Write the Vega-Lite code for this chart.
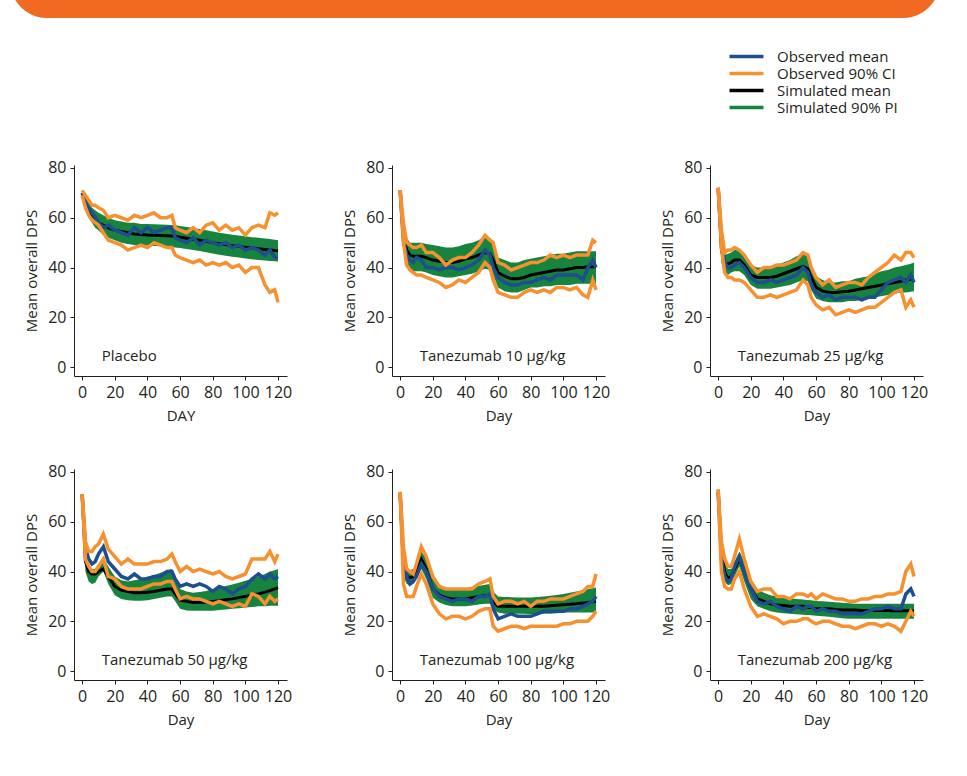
{
"$schema": "https://vega.github.io/schema/vega-lite/v6.json",
"autosize": {"type": "pad"},
"padding": {"left": 10, "top": -56, "right": 10, "bottom": 5},
"background": "#ffffff",
"config": {
  "font": "Open Sans",
  "view": {"stroke": null},
  "axis": {"grid": false, "domainColor": "#231F20", "tickColor": "#231F20", "labelColor": "#231F20", "titleColor": "#231F20", "labelFontSize": 16, "titleFontSize": 15, "titleFontWeight": "normal", "tickSize": 4, "labelPadding": 4, "titlePadding": 8, "labelFlush": false, "labelOverlap": false, "domainWidth": 1, "tickWidth": 1},
  "legend": {"orient": "none", "legendX": 729, "legendY": 105, "symbolSize": 32, "symbolStrokeWidth": 3.5, "labelFontSize": 15, "labelColor": "#231F20", "labelOffset": 23, "rowPadding": 1, "padding": 0, "labelLimit": 300}
},
"datasets": {"dps": [
{"p":"P","d":0,"om":70,"lo":69,"hi":71,"sm":70,"pl":69,"pu":71},
{"p":"P","d":2,"om":66,"lo":64,"hi":69,"sm":66,"pl":63,"pu":69},
{"p":"P","d":4,"om":64,"lo":61,"hi":67,"sm":63,"pl":60,"pu":66},
{"p":"P","d":6,"om":62,"lo":59,"hi":65,"sm":61,"pl":58,"pu":64},
{"p":"P","d":8,"om":60,"lo":58,"hi":65,"sm":60,"pl":56,"pu":63},
{"p":"P","d":10,"om":58,"lo":57,"hi":64,"sm":58,"pl":55,"pu":62},
{"p":"P","d":13,"om":56,"lo":54,"hi":63,"sm":57,"pl":53,"pu":61},
{"p":"P","d":16,"om":57,"lo":51,"hi":60,"sm":56,"pl":52,"pu":60},
{"p":"P","d":20,"om":55,"lo":50,"hi":61,"sm":55,"pl":51,"pu":59},
{"p":"P","d":24,"om":54,"lo":49,"hi":60,"sm":54.5,"pl":50,"pu":58.5},
{"p":"P","d":28,"om":53,"lo":47,"hi":59,"sm":54,"pl":49.5,"pu":58},
{"p":"P","d":32,"om":56,"lo":48,"hi":61,"sm":53.5,"pl":49,"pu":58},
{"p":"P","d":36,"om":54,"lo":49,"hi":60,"sm":53.3,"pl":49,"pu":57.5},
{"p":"P","d":40,"om":56,"lo":48,"hi":61,"sm":53.1,"pl":48.8,"pu":57.5},
{"p":"P","d":44,"om":54,"lo":50,"hi":62,"sm":53,"pl":48.6,"pu":57.4},
{"p":"P","d":48,"om":55,"lo":49,"hi":60,"sm":52.9,"pl":48.5,"pu":57.3},
{"p":"P","d":52,"om":56,"lo":48,"hi":60,"sm":52.8,"pl":48.3,"pu":57.2},
{"p":"P","d":55,"om":56,"lo":48,"hi":61,"sm":52.7,"pl":48.2,"pu":57.1},
{"p":"P","d":57,"om":52,"lo":45,"hi":56,"sm":52.5,"pl":48,"pu":57},
{"p":"P","d":60,"om":51,"lo":44,"hi":55,"sm":52.2,"pl":47.8,"pu":56.7},
{"p":"P","d":64,"om":50,"lo":43,"hi":54,"sm":51.8,"pl":47.4,"pu":56.3},
{"p":"P","d":68,"om":52,"lo":42,"hi":56,"sm":51.4,"pl":47,"pu":55.9},
{"p":"P","d":72,"om":49,"lo":43,"hi":54,"sm":51,"pl":46.6,"pu":55.5},
{"p":"P","d":76,"om":51,"lo":41,"hi":57,"sm":50.5,"pl":46.1,"pu":55},
{"p":"P","d":80,"om":50,"lo":42,"hi":58,"sm":50,"pl":45.6,"pu":54.5},
{"p":"P","d":84,"om":49,"lo":41,"hi":55,"sm":49.6,"pl":45.1,"pu":54},
{"p":"P","d":88,"om":50,"lo":42,"hi":57,"sm":49.2,"pl":44.7,"pu":53.6},
{"p":"P","d":92,"om":48,"lo":40,"hi":55,"sm":48.8,"pl":44.3,"pu":53.2},
{"p":"P","d":96,"om":49,"lo":41,"hi":56,"sm":48.5,"pl":44,"pu":52.9},
{"p":"P","d":100,"om":47,"lo":38,"hi":53,"sm":48.1,"pl":43.6,"pu":52.6},
{"p":"P","d":104,"om":48,"lo":40,"hi":56,"sm":47.8,"pl":43.3,"pu":52.2},
{"p":"P","d":108,"om":47,"lo":40,"hi":57,"sm":47.5,"pl":43,"pu":52},
{"p":"P","d":112,"om":45,"lo":33,"hi":56,"sm":47.2,"pl":42.8,"pu":51.7},
{"p":"P","d":115,"om":47,"lo":30,"hi":62,"sm":47,"pl":42.6,"pu":51.5},
{"p":"P","d":118,"om":44,"lo":31,"hi":61,"sm":46.8,"pl":42.5,"pu":51.2},
{"p":"P","d":120,"om":44,"lo":26,"hi":62,"sm":46.7,"pl":42.4,"pu":51},
{"p":"T10","d":0,"om":71,"lo":71,"hi":71,"sm":71,"pl":71,"pu":71},
{"p":"T10","d":2,"om":51,"lo":50,"hi":58,"sm":52,"pl":47,"pu":56},
{"p":"T10","d":4,"om":45,"lo":41,"hi":50,"sm":47,"pl":41,"pu":52},
{"p":"T10","d":6,"om":43,"lo":39,"hi":49,"sm":45,"pl":39,"pu":50},
{"p":"T10","d":8,"om":42,"lo":38,"hi":48,"sm":44.5,"pl":38.5,"pu":50},
{"p":"T10","d":10,"om":44,"lo":37,"hi":48,"sm":44.5,"pl":38.5,"pu":50},
{"p":"T10","d":13,"om":43,"lo":37,"hi":49,"sm":44.5,"pl":38.5,"pu":50},
{"p":"T10","d":16,"om":40,"lo":36,"hi":46,"sm":44,"pl":38,"pu":49.5},
{"p":"T10","d":20,"om":40,"lo":35,"hi":46,"sm":43,"pl":37,"pu":49},
{"p":"T10","d":24,"om":39,"lo":34,"hi":44,"sm":42.5,"pl":36.5,"pu":48.5},
{"p":"T10","d":28,"om":40,"lo":32,"hi":41,"sm":42,"pl":36,"pu":48},
{"p":"T10","d":32,"om":40,"lo":33,"hi":43,"sm":42,"pl":36,"pu":48},
{"p":"T10","d":36,"om":39,"lo":35,"hi":44,"sm":42.5,"pl":36.5,"pu":48.5},
{"p":"T10","d":40,"om":40,"lo":34,"hi":44,"sm":43.5,"pl":37,"pu":49.5},
{"p":"T10","d":44,"om":41,"lo":36,"hi":46,"sm":44,"pl":37.5,"pu":50},
{"p":"T10","d":48,"om":43,"lo":38,"hi":49,"sm":45,"pl":38.5,"pu":51},
{"p":"T10","d":52,"om":47,"lo":42,"hi":53,"sm":46,"pl":39.5,"pu":52.5},
{"p":"T10","d":55,"om":45,"lo":40,"hi":51,"sm":45.5,"pl":39,"pu":52},
{"p":"T10","d":57,"om":40,"lo":35,"hi":50,"sm":43,"pl":37,"pu":50},
{"p":"T10","d":60,"om":36,"lo":30,"hi":42,"sm":38,"pl":32,"pu":44},
{"p":"T10","d":64,"om":34,"lo":29,"hi":41,"sm":36.5,"pl":30.5,"pu":43},
{"p":"T10","d":68,"om":33,"lo":28,"hi":39,"sm":35.5,"pl":30,"pu":42},
{"p":"T10","d":72,"om":33,"lo":28,"hi":40,"sm":35.5,"pl":30,"pu":42},
{"p":"T10","d":76,"om":34,"lo":30,"hi":41,"sm":36,"pl":31,"pu":43},
{"p":"T10","d":80,"om":34,"lo":31,"hi":42,"sm":37,"pl":32,"pu":43.5},
{"p":"T10","d":84,"om":35,"lo":30,"hi":42,"sm":37.5,"pl":32,"pu":44},
{"p":"T10","d":88,"om":36,"lo":31,"hi":43,"sm":38,"pl":32.5,"pu":44.5},
{"p":"T10","d":92,"om":35,"lo":30,"hi":45,"sm":38.5,"pl":32.5,"pu":45},
{"p":"T10","d":96,"om":37,"lo":32,"hi":44,"sm":39,"pl":33,"pu":45.5},
{"p":"T10","d":100,"om":37,"lo":32,"hi":45,"sm":39,"pl":33,"pu":45.5},
{"p":"T10","d":104,"om":37,"lo":31,"hi":44,"sm":39.5,"pl":33,"pu":46},
{"p":"T10","d":108,"om":37,"lo":32,"hi":45,"sm":40,"pl":33.5,"pu":46.5},
{"p":"T10","d":112,"om":35,"lo":29,"hi":45,"sm":40,"pl":33.5,"pu":46.5},
{"p":"T10","d":115,"om":40,"lo":28,"hi":45,"sm":40.3,"pl":33.5,"pu":46.5},
{"p":"T10","d":118,"om":43,"lo":35,"hi":51,"sm":40.3,"pl":33.5,"pu":46.5},
{"p":"T10","d":120,"om":40,"lo":31,"hi":50,"sm":40.3,"pl":33.5,"pu":46.5},
{"p":"T25","d":0,"om":72,"lo":72,"hi":72,"sm":72,"pl":72,"pu":72},
{"p":"T25","d":2,"om":51,"lo":48,"hi":55,"sm":47,"pl":42,"pu":52},
{"p":"T25","d":4,"om":42,"lo":38,"hi":46,"sm":41,"pl":37,"pu":45},
{"p":"T25","d":6,"om":40,"lo":36,"hi":47,"sm":41.5,"pl":37,"pu":45.5},
{"p":"T25","d":8,"om":40,"lo":36,"hi":47,"sm":42,"pl":38,"pu":46},
{"p":"T25","d":10,"om":41,"lo":35,"hi":48,"sm":43,"pl":38.5,"pu":47},
{"p":"T25","d":13,"om":42,"lo":35,"hi":47,"sm":43,"pl":38.5,"pu":47},
{"p":"T25","d":16,"om":40,"lo":34,"hi":45,"sm":41,"pl":37,"pu":45},
{"p":"T25","d":20,"om":36,"lo":31,"hi":41,"sm":37,"pl":33,"pu":41},
{"p":"T25","d":24,"om":34,"lo":28,"hi":38,"sm":36,"pl":31.5,"pu":40},
{"p":"T25","d":28,"om":34,"lo":28,"hi":40,"sm":36,"pl":31.5,"pu":40},
{"p":"T25","d":32,"om":35,"lo":29,"hi":40,"sm":36,"pl":31.5,"pu":40},
{"p":"T25","d":36,"om":34,"lo":28,"hi":41,"sm":36.5,"pl":32,"pu":41},
{"p":"T25","d":40,"om":35,"lo":29,"hi":41,"sm":37.5,"pl":32.5,"pu":42},
{"p":"T25","d":44,"om":36,"lo":30,"hi":42,"sm":38.5,"pl":33,"pu":43},
{"p":"T25","d":48,"om":37,"lo":31,"hi":43,"sm":39.5,"pl":34,"pu":44.5},
{"p":"T25","d":52,"om":40,"lo":35,"hi":46,"sm":40.5,"pl":35,"pu":45.5},
{"p":"T25","d":55,"om":38,"lo":33,"hi":45,"sm":39.5,"pl":34.5,"pu":45.5},
{"p":"T25","d":57,"om":33,"lo":28,"hi":40,"sm":36,"pl":31,"pu":41},
{"p":"T25","d":60,"om":30,"lo":25,"hi":36,"sm":32,"pl":27.5,"pu":36.5},
{"p":"T25","d":64,"om":28,"lo":23,"hi":33,"sm":30.5,"pl":26.5,"pu":35},
{"p":"T25","d":68,"om":29,"lo":24,"hi":35,"sm":30,"pl":26,"pu":34},
{"p":"T25","d":72,"om":27,"lo":21,"hi":32,"sm":30,"pl":26,"pu":34},
{"p":"T25","d":76,"om":28,"lo":22,"hi":33,"sm":30.3,"pl":26,"pu":34.5},
{"p":"T25","d":80,"om":28,"lo":23,"hi":34,"sm":30.5,"pl":26.5,"pu":34.5},
{"p":"T25","d":84,"om":28,"lo":22,"hi":34,"sm":31,"pl":26.5,"pu":35.5},
{"p":"T25","d":88,"om":27,"lo":23,"hi":33,"sm":31.5,"pl":27,"pu":36},
{"p":"T25","d":92,"om":28,"lo":24,"hi":36,"sm":32,"pl":27.5,"pu":36.5},
{"p":"T25","d":96,"om":28,"lo":24,"hi":38,"sm":32.5,"pl":28,"pu":37.5},
{"p":"T25","d":100,"om":31,"lo":26,"hi":40,"sm":33,"pl":28.5,"pu":38.5},
{"p":"T25","d":104,"om":34,"lo":28,"hi":42,"sm":33.5,"pl":29,"pu":39},
{"p":"T25","d":108,"om":35,"lo":30,"hi":45,"sm":34,"pl":29.5,"pu":40},
{"p":"T25","d":112,"om":36,"lo":31,"hi":43,"sm":34.5,"pl":30,"pu":40.5},
{"p":"T25","d":115,"om":34,"lo":24,"hi":46,"sm":35,"pl":30,"pu":41},
{"p":"T25","d":118,"om":37,"lo":27,"hi":46,"sm":35.3,"pl":30.3,"pu":41.5},
{"p":"T25","d":120,"om":34,"lo":24,"hi":44,"sm":35.5,"pl":30.5,"pu":42},
{"p":"T50","d":0,"om":71,"lo":71,"hi":71,"sm":71,"pl":70,"pu":72},
{"p":"T50","d":2,"om":50,"lo":45,"hi":52,"sm":44,"pl":40,"pu":48},
{"p":"T50","d":4,"om":45,"lo":42,"hi":48,"sm":40,"pl":36,"pu":43},
{"p":"T50","d":6,"om":43,"lo":40,"hi":48,"sm":39,"pl":35,"pu":41},
{"p":"T50","d":8,"om":44,"lo":40,"hi":50,"sm":39,"pl":35.5,"pu":41},
{"p":"T50","d":10,"om":47,"lo":42,"hi":51,"sm":40,"pl":38,"pu":43},
{"p":"T50","d":13,"om":50,"lo":45,"hi":55,"sm":41,"pl":40,"pu":45.5},
{"p":"T50","d":16,"om":44,"lo":38,"hi":49,"sm":38,"pl":35,"pu":42},
{"p":"T50","d":20,"om":41,"lo":37,"hi":46,"sm":34,"pl":30.5,"pu":38},
{"p":"T50","d":24,"om":38,"lo":34,"hi":43,"sm":32.5,"pl":29,"pu":36.5},
{"p":"T50","d":28,"om":37,"lo":33,"hi":45,"sm":32,"pl":28.5,"pu":36},
{"p":"T50","d":32,"om":39,"lo":33,"hi":43,"sm":31.5,"pl":28.3,"pu":36.5},
{"p":"T50","d":36,"om":37,"lo":33,"hi":43,"sm":31.5,"pl":28.3,"pu":37},
{"p":"T50","d":40,"om":37,"lo":34,"hi":43,"sm":31.7,"pl":28.5,"pu":38},
{"p":"T50","d":44,"om":38,"lo":35,"hi":44,"sm":32,"pl":29,"pu":38.5},
{"p":"T50","d":48,"om":38,"lo":35,"hi":44,"sm":32.5,"pl":29.5,"pu":39.5},
{"p":"T50","d":52,"om":40,"lo":36,"hi":45,"sm":33,"pl":30,"pu":40.5},
{"p":"T50","d":55,"om":40,"lo":36,"hi":47,"sm":33,"pl":30,"pu":41},
{"p":"T50","d":57,"om":37,"lo":33,"hi":44,"sm":31,"pl":28,"pu":38},
{"p":"T50","d":60,"om":34,"lo":29,"hi":40,"sm":28.5,"pl":25,"pu":33},
{"p":"T50","d":64,"om":35,"lo":30,"hi":42,"sm":28,"pl":24.3,"pu":32},
{"p":"T50","d":68,"om":34,"lo":29,"hi":40,"sm":27.5,"pl":24.2,"pu":31.5},
{"p":"T50","d":72,"om":35,"lo":29,"hi":41,"sm":27.5,"pl":24.2,"pu":31.8},
{"p":"T50","d":76,"om":34,"lo":28,"hi":40,"sm":27.7,"pl":24.2,"pu":32.2},
{"p":"T50","d":80,"om":32,"lo":27,"hi":39,"sm":28,"pl":24.2,"pu":33},
{"p":"T50","d":84,"om":34,"lo":28,"hi":40,"sm":28.3,"pl":24.5,"pu":33.5},
{"p":"T50","d":88,"om":33,"lo":27,"hi":38,"sm":28.7,"pl":24.7,"pu":34.2},
{"p":"T50","d":92,"om":31,"lo":26,"hi":37,"sm":29,"pl":25,"pu":34.8},
{"p":"T50","d":96,"om":33,"lo":27,"hi":38,"sm":29.5,"pl":25.2,"pu":35.5},
{"p":"T50","d":100,"om":34,"lo":26,"hi":39,"sm":30,"pl":25.5,"pu":36.3},
{"p":"T50","d":104,"om":37,"lo":31,"hi":45,"sm":30.5,"pl":25.7,"pu":37},
{"p":"T50","d":108,"om":39,"lo":30,"hi":45,"sm":31,"pl":26,"pu":38},
{"p":"T50","d":112,"om":37,"lo":27,"hi":45,"sm":31.7,"pl":26,"pu":39},
{"p":"T50","d":115,"om":39,"lo":30,"hi":48,"sm":32.3,"pl":26.2,"pu":40},
{"p":"T50","d":118,"om":37,"lo":28,"hi":44,"sm":33,"pl":26.2,"pu":40.5},
{"p":"T50","d":120,"om":38,"lo":29,"hi":47,"sm":33.5,"pl":26.2,"pu":41},
{"p":"T100","d":0,"om":71,"lo":72,"hi":72,"sm":71,"pl":71,"pu":71},
{"p":"T100","d":2,"om":45,"lo":35,"hi":50,"sm":42,"pl":38,"pu":46},
{"p":"T100","d":4,"om":38,"lo":30,"hi":41,"sm":38,"pl":35,"pu":41},
{"p":"T100","d":6,"om":35,"lo":30,"hi":40,"sm":37.5,"pl":34.5,"pu":40.5},
{"p":"T100","d":8,"om":36,"lo":30,"hi":39,"sm":38,"pl":35,"pu":41},
{"p":"T100","d":10,"om":38,"lo":34,"hi":43,"sm":41,"pl":38,"pu":44},
{"p":"T100","d":13,"om":43,"lo":39,"hi":50,"sm":45,"pl":41,"pu":48},
{"p":"T100","d":16,"om":40,"lo":35,"hi":46,"sm":41,"pl":37,"pu":45},
{"p":"T100","d":20,"om":33,"lo":27,"hi":38,"sm":33,"pl":29.5,"pu":37},
{"p":"T100","d":24,"om":30,"lo":23,"hi":34,"sm":30.5,"pl":27.5,"pu":34},
{"p":"T100","d":28,"om":29,"lo":21,"hi":33,"sm":29.5,"pl":26.5,"pu":33},
{"p":"T100","d":32,"om":28,"lo":22,"hi":33,"sm":29,"pl":26,"pu":33},
{"p":"T100","d":36,"om":29,"lo":22,"hi":33,"sm":29,"pl":26,"pu":33},
{"p":"T100","d":40,"om":29,"lo":21,"hi":33,"sm":29,"pl":26,"pu":33.3},
{"p":"T100","d":44,"om":28,"lo":22,"hi":33,"sm":29.5,"pl":26.3,"pu":33.7},
{"p":"T100","d":48,"om":30,"lo":24,"hi":35,"sm":30,"pl":26.7,"pu":34.2},
{"p":"T100","d":52,"om":30,"lo":25,"hi":36,"sm":30.3,"pl":27,"pu":34.7},
{"p":"T100","d":55,"om":31,"lo":25,"hi":37,"sm":30.5,"pl":27,"pu":35},
{"p":"T100","d":57,"om":25,"lo":18,"hi":30,"sm":28,"pl":25,"pu":32},
{"p":"T100","d":60,"om":21,"lo":16,"hi":27,"sm":26,"pl":23.5,"pu":30},
{"p":"T100","d":64,"om":22,"lo":17,"hi":28,"sm":26,"pl":23,"pu":29.8},
{"p":"T100","d":68,"om":23,"lo":18,"hi":28,"sm":26,"pl":23,"pu":29.7},
{"p":"T100","d":72,"om":22,"lo":18,"hi":27,"sm":26,"pl":23,"pu":29.6},
{"p":"T100","d":76,"om":22,"lo":17,"hi":28,"sm":26,"pl":23,"pu":29.6},
{"p":"T100","d":80,"om":22,"lo":18,"hi":26,"sm":26,"pl":22.8,"pu":29.6},
{"p":"T100","d":84,"om":23,"lo":18,"hi":28,"sm":26,"pl":22.8,"pu":29.8},
{"p":"T100","d":88,"om":24,"lo":18,"hi":28,"sm":26,"pl":23,"pu":30},
{"p":"T100","d":92,"om":24,"lo":18,"hi":29,"sm":26.2,"pl":23,"pu":30.3},
{"p":"T100","d":96,"om":24,"lo":18,"hi":29,"sm":26.4,"pl":23.2,"pu":30.6},
{"p":"T100","d":100,"om":24,"lo":19,"hi":29,"sm":26.6,"pl":23.5,"pu":31},
{"p":"T100","d":104,"om":25,"lo":19,"hi":30,"sm":26.8,"pl":23.5,"pu":31.5},
{"p":"T100","d":108,"om":25,"lo":20,"hi":31,"sm":27,"pl":23.5,"pu":32},
{"p":"T100","d":112,"om":26,"lo":20,"hi":32,"sm":27.3,"pl":23.5,"pu":32.5},
{"p":"T100","d":115,"om":27,"lo":20,"hi":34,"sm":27.6,"pl":23.5,"pu":33},
{"p":"T100","d":118,"om":28,"lo":22,"hi":34,"sm":27.8,"pl":23.5,"pu":33.3},
{"p":"T100","d":120,"om":30,"lo":24,"hi":39,"sm":28,"pl":23.5,"pu":33.6},
{"p":"T200","d":0,"om":72,"lo":73,"hi":73,"sm":72,"pl":72,"pu":72},
{"p":"T200","d":2,"om":45,"lo":40,"hi":52,"sm":48,"pl":44,"pu":52},
{"p":"T200","d":4,"om":38,"lo":34,"hi":45,"sm":40,"pl":36,"pu":44},
{"p":"T200","d":6,"om":36,"lo":33,"hi":42,"sm":37,"pl":34.5,"pu":41},
{"p":"T200","d":8,"om":37,"lo":33,"hi":42,"sm":38,"pl":35,"pu":41},
{"p":"T200","d":10,"om":42,"lo":37,"hi":46,"sm":41,"pl":38,"pu":44},
{"p":"T200","d":13,"om":46,"lo":40,"hi":53,"sm":45,"pl":42,"pu":48},
{"p":"T200","d":16,"om":40,"lo":33,"hi":45,"sm":40,"pl":36,"pu":44},
{"p":"T200","d":20,"om":33,"lo":26,"hi":36,"sm":33,"pl":29,"pu":37},
{"p":"T200","d":24,"om":28,"lo":22,"hi":32,"sm":29,"pl":26,"pu":33},
{"p":"T200","d":28,"om":27,"lo":23,"hi":33,"sm":28,"pl":25,"pu":31.5},
{"p":"T200","d":32,"om":28,"lo":22,"hi":33,"sm":27,"pl":24,"pu":30.5},
{"p":"T200","d":36,"om":26,"lo":21,"hi":30,"sm":26.5,"pl":23.5,"pu":30},
{"p":"T200","d":40,"om":25,"lo":19,"hi":30,"sm":26.3,"pl":23.2,"pu":29.6},
{"p":"T200","d":44,"om":24,"lo":20,"hi":29,"sm":26,"pl":23,"pu":29.3},
{"p":"T200","d":48,"om":26,"lo":20,"hi":31,"sm":26,"pl":22.8,"pu":29},
{"p":"T200","d":52,"om":25,"lo":21,"hi":31,"sm":26,"pl":22.6,"pu":28.8},
{"p":"T200","d":55,"om":26,"lo":21,"hi":30,"sm":25.5,"pl":22.5,"pu":28.6},
{"p":"T200","d":57,"om":26,"lo":20,"hi":31,"sm":25.5,"pl":22.4,"pu":28.5},
{"p":"T200","d":60,"om":24,"lo":19,"hi":29,"sm":25,"pl":22.2,"pu":28.2},
{"p":"T200","d":64,"om":25,"lo":20,"hi":31,"sm":25,"pl":22,"pu":28},
{"p":"T200","d":68,"om":24,"lo":20,"hi":30,"sm":25,"pl":21.8,"pu":27.8},
{"p":"T200","d":72,"om":24,"lo":19,"hi":29,"sm":24.7,"pl":21.5,"pu":27.6},
{"p":"T200","d":76,"om":23,"lo":18,"hi":29,"sm":24.5,"pl":21.2,"pu":27.4},
{"p":"T200","d":80,"om":23,"lo":18,"hi":28,"sm":24.5,"pl":21,"pu":27.2},
{"p":"T200","d":84,"om":23,"lo":17,"hi":28,"sm":24.5,"pl":21,"pu":27},
{"p":"T200","d":88,"om":23,"lo":18,"hi":29,"sm":24.3,"pl":21,"pu":27},
{"p":"T200","d":92,"om":24,"lo":19,"hi":29,"sm":24.3,"pl":21,"pu":27},
{"p":"T200","d":96,"om":25,"lo":19,"hi":30,"sm":24.3,"pl":21,"pu":27},
{"p":"T200","d":100,"om":25,"lo":18,"hi":30,"sm":24.3,"pl":21,"pu":27},
{"p":"T200","d":104,"om":26,"lo":19,"hi":31,"sm":24.3,"pl":21,"pu":27},
{"p":"T200","d":108,"om":25,"lo":18,"hi":31,"sm":24.2,"pl":21,"pu":27},
{"p":"T200","d":112,"om":25,"lo":16,"hi":32,"sm":24.2,"pl":21,"pu":27},
{"p":"T200","d":115,"om":31,"lo":20,"hi":40,"sm":24.2,"pl":21,"pu":27},
{"p":"T200","d":118,"om":33,"lo":24,"hi":43,"sm":24.2,"pl":21,"pu":27},
{"p":"T200","d":120,"om":30,"lo":22,"hi":38,"sm":24,"pl":21,"pu":27}
]},
"bounds": "flush",
"spacing": 147,
"vconcat": [
  {"width": 930, "height": 74, "data": {"values": []}, "mark": "point", "view": {"fill": "#F26A22", "stroke": null, "cornerRadius": 37}},
  {"bounds": "flush", "spacing": 0, "hconcat": [
    {"width": 64, "height": 10, "data": {"values": []}, "mark": "point"},
    {"bounds": "flush", "columns": 3, "spacing": {"row": 93, "column": 105}, "concat": [
      {"width": 213, "height": 211, "data": {"name": "dps"}, "transform": [{"filter": "datum.p == 'P'"}],
       "encoding": {"x": {"field": "d", "type": "quantitative", "scale": {"domain": [-5, 125.5], "nice": false, "zero": false}, "axis": {"values": [0,20,40,60,80,100,120], "title": "DAY", "labelOverlap": false, "labelFlush": false}}},
       "layer": [
        {"mark": {"type": "area"}, "encoding": {
          "y": {"field": "pl", "type": "quantitative", "scale": {"domain": [-3.6, 81.2], "nice": false, "zero": false}, "axis": {"values": [0,20,40,60,80], "title": "Mean overall DPS", "labelOverlap": false}},
          "y2": {"field": "pu"},
          "color": {"datum": "Simulated 90% PI", "type": "nominal", "scale": {"domain": ["Observed mean","Observed 90% CI","Simulated mean","Simulated 90% PI"], "range": ["#1D4E8F","#F7902E","#000000","#16833F"]}, "legend": {"title": null, "symbolType": "M-6,0H6", "encode": {"symbols": {"update": {"stroke": {"scale": "color", "field": "value"}, "strokeWidth": {"value": 3.5}}}}}}}},
        {"mark": {"type": "line", "strokeWidth": 3}, "encoding": {"y": {"field": "sm", "type": "quantitative"}, "color": {"datum": "Simulated mean", "type": "nominal", "scale": {"domain": ["Observed mean","Observed 90% CI","Simulated mean","Simulated 90% PI"], "range": ["#1D4E8F","#F7902E","#000000","#16833F"]}, "legend": {"title": null, "symbolType": "M-6,0H6"}}}},
        {"mark": {"type": "line", "strokeWidth": 3.5}, "encoding": {"y": {"field": "om", "type": "quantitative"}, "color": {"datum": "Observed mean", "type": "nominal", "scale": {"domain": ["Observed mean","Observed 90% CI","Simulated mean","Simulated 90% PI"], "range": ["#1D4E8F","#F7902E","#000000","#16833F"]}, "legend": {"title": null, "symbolType": "M-6,0H6"}}}},
        {"mark": {"type": "line", "strokeWidth": 3.5}, "encoding": {"y": {"field": "hi", "type": "quantitative"}, "color": {"datum": "Observed 90% CI", "type": "nominal", "scale": {"domain": ["Observed mean","Observed 90% CI","Simulated mean","Simulated 90% PI"], "range": ["#1D4E8F","#F7902E","#000000","#16833F"]}, "legend": {"title": null, "symbolType": "M-6,0H6"}}}},
        {"mark": {"type": "line", "strokeWidth": 3.5}, "encoding": {"y": {"field": "lo", "type": "quantitative"}, "color": {"datum": "Observed 90% CI", "type": "nominal", "scale": {"domain": ["Observed mean","Observed 90% CI","Simulated mean","Simulated 90% PI"], "range": ["#1D4E8F","#F7902E","#000000","#16833F"]}, "legend": {"title": null, "symbolType": "M-6,0H6"}}}},
        {"data": {"values": [{"t": "Placebo", "d": 12, "v": 4.5}]}, "mark": {"type": "text", "align": "left", "baseline": "middle", "fontSize": 15, "color": "#231F20"}, "encoding": {"y": {"field": "v", "type": "quantitative"}, "text": {"field": "t"}}}
      ]},
      {"width": 213, "height": 211, "data": {"name": "dps"}, "transform": [{"filter": "datum.p == 'T10'"}],
       "encoding": {"x": {"field": "d", "type": "quantitative", "scale": {"domain": [-5, 125.5], "nice": false, "zero": false}, "axis": {"values": [0,20,40,60,80,100,120], "title": "Day", "labelOverlap": false, "labelFlush": false}}},
       "layer": [
        {"mark": {"type": "area"}, "encoding": {
          "y": {"field": "pl", "type": "quantitative", "scale": {"domain": [-3.6, 81.2], "nice": false, "zero": false}, "axis": {"values": [0,20,40,60,80], "title": "Mean overall DPS", "labelOverlap": false}},
          "y2": {"field": "pu"},
          "color": {"datum": "Simulated 90% PI", "type": "nominal", "scale": {"domain": ["Observed mean","Observed 90% CI","Simulated mean","Simulated 90% PI"], "range": ["#1D4E8F","#F7902E","#000000","#16833F"]}, "legend": {"title": null, "symbolType": "M-6,0H6"}}}},
        {"mark": {"type": "line", "strokeWidth": 3}, "encoding": {"y": {"field": "sm", "type": "quantitative"}, "color": {"datum": "Simulated mean", "type": "nominal", "scale": {"domain": ["Observed mean","Observed 90% CI","Simulated mean","Simulated 90% PI"], "range": ["#1D4E8F","#F7902E","#000000","#16833F"]}, "legend": {"title": null, "symbolType": "M-6,0H6"}}}},
        {"mark": {"type": "line", "strokeWidth": 3.5}, "encoding": {"y": {"field": "om", "type": "quantitative"}, "color": {"datum": "Observed mean", "type": "nominal", "scale": {"domain": ["Observed mean","Observed 90% CI","Simulated mean","Simulated 90% PI"], "range": ["#1D4E8F","#F7902E","#000000","#16833F"]}, "legend": {"title": null, "symbolType": "M-6,0H6"}}}},
        {"mark": {"type": "line", "strokeWidth": 3.5}, "encoding": {"y": {"field": "hi", "type": "quantitative"}, "color": {"datum": "Observed 90% CI", "type": "nominal", "scale": {"domain": ["Observed mean","Observed 90% CI","Simulated mean","Simulated 90% PI"], "range": ["#1D4E8F","#F7902E","#000000","#16833F"]}, "legend": {"title": null, "symbolType": "M-6,0H6"}}}},
        {"mark": {"type": "line", "strokeWidth": 3.5}, "encoding": {"y": {"field": "lo", "type": "quantitative"}, "color": {"datum": "Observed 90% CI", "type": "nominal", "scale": {"domain": ["Observed mean","Observed 90% CI","Simulated mean","Simulated 90% PI"], "range": ["#1D4E8F","#F7902E","#000000","#16833F"]}, "legend": {"title": null, "symbolType": "M-6,0H6"}}}},
        {"data": {"values": [{"t": "Tanezumab 10 µg/kg", "d": 12, "v": 4.5}]}, "mark": {"type": "text", "align": "left", "baseline": "middle", "fontSize": 15, "color": "#231F20"}, "encoding": {"y": {"field": "v", "type": "quantitative"}, "text": {"field": "t"}}}
      ]},
      {"width": 213, "height": 211, "data": {"name": "dps"}, "transform": [{"filter": "datum.p == 'T25'"}],
       "encoding": {"x": {"field": "d", "type": "quantitative", "scale": {"domain": [-5, 125.5], "nice": false, "zero": false}, "axis": {"values": [0,20,40,60,80,100,120], "title": "Day", "labelOverlap": false, "labelFlush": false}}},
       "layer": [
        {"mark": {"type": "area"}, "encoding": {
          "y": {"field": "pl", "type": "quantitative", "scale": {"domain": [-3.6, 81.2], "nice": false, "zero": false}, "axis": {"values": [0,20,40,60,80], "title": "Mean overall DPS", "labelOverlap": false}},
          "y2": {"field": "pu"},
          "color": {"datum": "Simulated 90% PI", "type": "nominal", "scale": {"domain": ["Observed mean","Observed 90% CI","Simulated mean","Simulated 90% PI"], "range": ["#1D4E8F","#F7902E","#000000","#16833F"]}, "legend": {"title": null, "symbolType": "M-6,0H6"}}}},
        {"mark": {"type": "line", "strokeWidth": 3}, "encoding": {"y": {"field": "sm", "type": "quantitative"}, "color": {"datum": "Simulated mean", "type": "nominal", "scale": {"domain": ["Observed mean","Observed 90% CI","Simulated mean","Simulated 90% PI"], "range": ["#1D4E8F","#F7902E","#000000","#16833F"]}, "legend": {"title": null, "symbolType": "M-6,0H6"}}}},
        {"mark": {"type": "line", "strokeWidth": 3.5}, "encoding": {"y": {"field": "om", "type": "quantitative"}, "color": {"datum": "Observed mean", "type": "nominal", "scale": {"domain": ["Observed mean","Observed 90% CI","Simulated mean","Simulated 90% PI"], "range": ["#1D4E8F","#F7902E","#000000","#16833F"]}, "legend": {"title": null, "symbolType": "M-6,0H6"}}}},
        {"mark": {"type": "line", "strokeWidth": 3.5}, "encoding": {"y": {"field": "hi", "type": "quantitative"}, "color": {"datum": "Observed 90% CI", "type": "nominal", "scale": {"domain": ["Observed mean","Observed 90% CI","Simulated mean","Simulated 90% PI"], "range": ["#1D4E8F","#F7902E","#000000","#16833F"]}, "legend": {"title": null, "symbolType": "M-6,0H6"}}}},
        {"mark": {"type": "line", "strokeWidth": 3.5}, "encoding": {"y": {"field": "lo", "type": "quantitative"}, "color": {"datum": "Observed 90% CI", "type": "nominal", "scale": {"domain": ["Observed mean","Observed 90% CI","Simulated mean","Simulated 90% PI"], "range": ["#1D4E8F","#F7902E","#000000","#16833F"]}, "legend": {"title": null, "symbolType": "M-6,0H6"}}}},
        {"data": {"values": [{"t": "Tanezumab 25 µg/kg", "d": 12, "v": 4.5}]}, "mark": {"type": "text", "align": "left", "baseline": "middle", "fontSize": 15, "color": "#231F20"}, "encoding": {"y": {"field": "v", "type": "quantitative"}, "text": {"field": "t"}}}
      ]},
      {"width": 213, "height": 211, "data": {"name": "dps"}, "transform": [{"filter": "datum.p == 'T50'"}],
       "encoding": {"x": {"field": "d", "type": "quantitative", "scale": {"domain": [-5, 125.5], "nice": false, "zero": false}, "axis": {"values": [0,20,40,60,80,100,120], "title": "Day", "labelOverlap": false, "labelFlush": false}}},
       "layer": [
        {"mark": {"type": "area"}, "encoding": {
          "y": {"field": "pl", "type": "quantitative", "scale": {"domain": [-3.6, 81.2], "nice": false, "zero": false}, "axis": {"values": [0,20,40,60,80], "title": "Mean overall DPS", "labelOverlap": false}},
          "y2": {"field": "pu"},
          "color": {"datum": "Simulated 90% PI", "type": "nominal", "scale": {"domain": ["Observed mean","Observed 90% CI","Simulated mean","Simulated 90% PI"], "range": ["#1D4E8F","#F7902E","#000000","#16833F"]}, "legend": {"title": null, "symbolType": "M-6,0H6"}}}},
        {"mark": {"type": "line", "strokeWidth": 3}, "encoding": {"y": {"field": "sm", "type": "quantitative"}, "color": {"datum": "Simulated mean", "type": "nominal", "scale": {"domain": ["Observed mean","Observed 90% CI","Simulated mean","Simulated 90% PI"], "range": ["#1D4E8F","#F7902E","#000000","#16833F"]}, "legend": {"title": null, "symbolType": "M-6,0H6"}}}},
        {"mark": {"type": "line", "strokeWidth": 3.5}, "encoding": {"y": {"field": "om", "type": "quantitative"}, "color": {"datum": "Observed mean", "type": "nominal", "scale": {"domain": ["Observed mean","Observed 90% CI","Simulated mean","Simulated 90% PI"], "range": ["#1D4E8F","#F7902E","#000000","#16833F"]}, "legend": {"title": null, "symbolType": "M-6,0H6"}}}},
        {"mark": {"type": "line", "strokeWidth": 3.5}, "encoding": {"y": {"field": "hi", "type": "quantitative"}, "color": {"datum": "Observed 90% CI", "type": "nominal", "scale": {"domain": ["Observed mean","Observed 90% CI","Simulated mean","Simulated 90% PI"], "range": ["#1D4E8F","#F7902E","#000000","#16833F"]}, "legend": {"title": null, "symbolType": "M-6,0H6"}}}},
        {"mark": {"type": "line", "strokeWidth": 3.5}, "encoding": {"y": {"field": "lo", "type": "quantitative"}, "color": {"datum": "Observed 90% CI", "type": "nominal", "scale": {"domain": ["Observed mean","Observed 90% CI","Simulated mean","Simulated 90% PI"], "range": ["#1D4E8F","#F7902E","#000000","#16833F"]}, "legend": {"title": null, "symbolType": "M-6,0H6"}}}},
        {"data": {"values": [{"t": "Tanezumab 50 µg/kg", "d": 12, "v": 4.5}]}, "mark": {"type": "text", "align": "left", "baseline": "middle", "fontSize": 15, "color": "#231F20"}, "encoding": {"y": {"field": "v", "type": "quantitative"}, "text": {"field": "t"}}}
      ]},
      {"width": 213, "height": 211, "data": {"name": "dps"}, "transform": [{"filter": "datum.p == 'T100'"}],
       "encoding": {"x": {"field": "d", "type": "quantitative", "scale": {"domain": [-5, 125.5], "nice": false, "zero": false}, "axis": {"values": [0,20,40,60,80,100,120], "title": "Day", "labelOverlap": false, "labelFlush": false}}},
       "layer": [
        {"mark": {"type": "area"}, "encoding": {
          "y": {"field": "pl", "type": "quantitative", "scale": {"domain": [-3.6, 81.2], "nice": false, "zero": false}, "axis": {"values": [0,20,40,60,80], "title": "Mean overall DPS", "labelOverlap": false}},
          "y2": {"field": "pu"},
          "color": {"datum": "Simulated 90% PI", "type": "nominal", "scale": {"domain": ["Observed mean","Observed 90% CI","Simulated mean","Simulated 90% PI"], "range": ["#1D4E8F","#F7902E","#000000","#16833F"]}, "legend": {"title": null, "symbolType": "M-6,0H6"}}}},
        {"mark": {"type": "line", "strokeWidth": 3}, "encoding": {"y": {"field": "sm", "type": "quantitative"}, "color": {"datum": "Simulated mean", "type": "nominal", "scale": {"domain": ["Observed mean","Observed 90% CI","Simulated mean","Simulated 90% PI"], "range": ["#1D4E8F","#F7902E","#000000","#16833F"]}, "legend": {"title": null, "symbolType": "M-6,0H6"}}}},
        {"mark": {"type": "line", "strokeWidth": 3.5}, "encoding": {"y": {"field": "om", "type": "quantitative"}, "color": {"datum": "Observed mean", "type": "nominal", "scale": {"domain": ["Observed mean","Observed 90% CI","Simulated mean","Simulated 90% PI"], "range": ["#1D4E8F","#F7902E","#000000","#16833F"]}, "legend": {"title": null, "symbolType": "M-6,0H6"}}}},
        {"mark": {"type": "line", "strokeWidth": 3.5}, "encoding": {"y": {"field": "hi", "type": "quantitative"}, "color": {"datum": "Observed 90% CI", "type": "nominal", "scale": {"domain": ["Observed mean","Observed 90% CI","Simulated mean","Simulated 90% PI"], "range": ["#1D4E8F","#F7902E","#000000","#16833F"]}, "legend": {"title": null, "symbolType": "M-6,0H6"}}}},
        {"mark": {"type": "line", "strokeWidth": 3.5}, "encoding": {"y": {"field": "lo", "type": "quantitative"}, "color": {"datum": "Observed 90% CI", "type": "nominal", "scale": {"domain": ["Observed mean","Observed 90% CI","Simulated mean","Simulated 90% PI"], "range": ["#1D4E8F","#F7902E","#000000","#16833F"]}, "legend": {"title": null, "symbolType": "M-6,0H6"}}}},
        {"data": {"values": [{"t": "Tanezumab 100 µg/kg", "d": 12, "v": 4.5}]}, "mark": {"type": "text", "align": "left", "baseline": "middle", "fontSize": 15, "color": "#231F20"}, "encoding": {"y": {"field": "v", "type": "quantitative"}, "text": {"field": "t"}}}
      ]},
      {"width": 213, "height": 211, "data": {"name": "dps"}, "transform": [{"filter": "datum.p == 'T200'"}],
       "encoding": {"x": {"field": "d", "type": "quantitative", "scale": {"domain": [-5, 125.5], "nice": false, "zero": false}, "axis": {"values": [0,20,40,60,80,100,120], "title": "Day", "labelOverlap": false, "labelFlush": false}}},
       "layer": [
        {"mark": {"type": "area"}, "encoding": {
          "y": {"field": "pl", "type": "quantitative", "scale": {"domain": [-3.6, 81.2], "nice": false, "zero": false}, "axis": {"values": [0,20,40,60,80], "title": "Mean overall DPS", "labelOverlap": false}},
          "y2": {"field": "pu"},
          "color": {"datum": "Simulated 90% PI", "type": "nominal", "scale": {"domain": ["Observed mean","Observed 90% CI","Simulated mean","Simulated 90% PI"], "range": ["#1D4E8F","#F7902E","#000000","#16833F"]}, "legend": {"title": null, "symbolType": "M-6,0H6"}}}},
        {"mark": {"type": "line", "strokeWidth": 3}, "encoding": {"y": {"field": "sm", "type": "quantitative"}, "color": {"datum": "Simulated mean", "type": "nominal", "scale": {"domain": ["Observed mean","Observed 90% CI","Simulated mean","Simulated 90% PI"], "range": ["#1D4E8F","#F7902E","#000000","#16833F"]}, "legend": {"title": null, "symbolType": "M-6,0H6"}}}},
        {"mark": {"type": "line", "strokeWidth": 3.5}, "encoding": {"y": {"field": "om", "type": "quantitative"}, "color": {"datum": "Observed mean", "type": "nominal", "scale": {"domain": ["Observed mean","Observed 90% CI","Simulated mean","Simulated 90% PI"], "range": ["#1D4E8F","#F7902E","#000000","#16833F"]}, "legend": {"title": null, "symbolType": "M-6,0H6"}}}},
        {"mark": {"type": "line", "strokeWidth": 3.5}, "encoding": {"y": {"field": "hi", "type": "quantitative"}, "color": {"datum": "Observed 90% CI", "type": "nominal", "scale": {"domain": ["Observed mean","Observed 90% CI","Simulated mean","Simulated 90% PI"], "range": ["#1D4E8F","#F7902E","#000000","#16833F"]}, "legend": {"title": null, "symbolType": "M-6,0H6"}}}},
        {"mark": {"type": "line", "strokeWidth": 3.5}, "encoding": {"y": {"field": "lo", "type": "quantitative"}, "color": {"datum": "Observed 90% CI", "type": "nominal", "scale": {"domain": ["Observed mean","Observed 90% CI","Simulated mean","Simulated 90% PI"], "range": ["#1D4E8F","#F7902E","#000000","#16833F"]}, "legend": {"title": null, "symbolType": "M-6,0H6"}}}},
        {"data": {"values": [{"t": "Tanezumab 200 µg/kg", "d": 12, "v": 4.5}]}, "mark": {"type": "text", "align": "left", "baseline": "middle", "fontSize": 15, "color": "#231F20"}, "encoding": {"y": {"field": "v", "type": "quantitative"}, "text": {"field": "t"}}}
      ]}
    ]}
  ]}
]
}
